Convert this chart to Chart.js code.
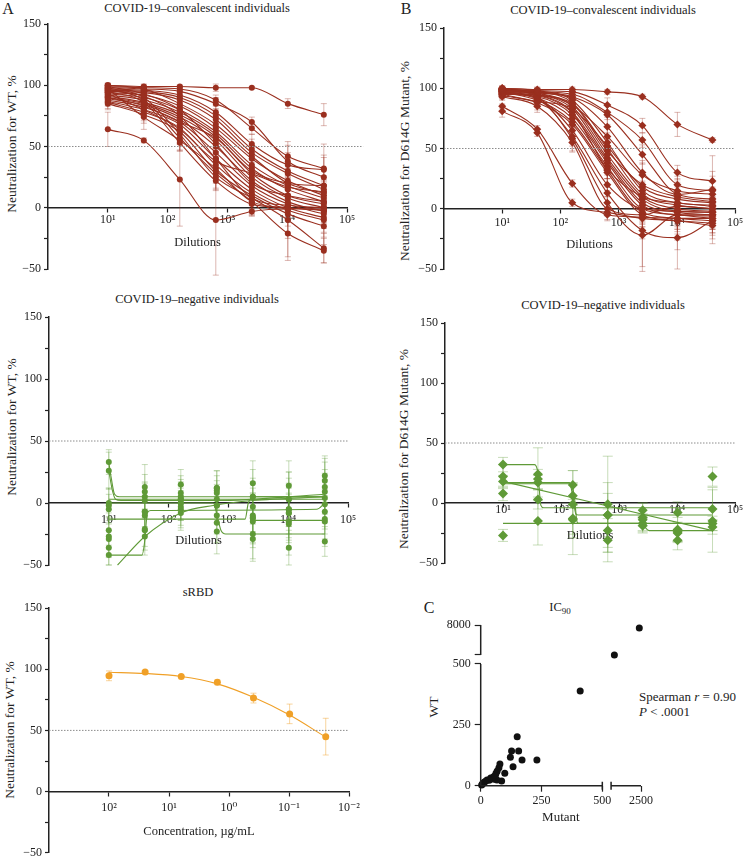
<!DOCTYPE html>
<html>
<head>
<meta charset="utf-8">
<script src="https://cdn.jsdelivr.net/npm/chart.js@4.4.1/dist/chart.umd.min.js"></script>
<style>
  body { margin: 0; background: #fff; width: 744px; height: 863px; position: relative; overflow: hidden;
         font-family: "Liberation Serif", "DejaVu Serif", serif; color: #222; }
  canvas { position: absolute; }
  .t { position: absolute; font-size: 12.5px; white-space: nowrap; transform: translate(-50%, -50%); }
  .yt { position: absolute; font-size: 13.5px; white-space: nowrap; transform: translate(-50%, -50%) rotate(-90deg); }
  .lt { position: absolute; font-size: 16px; transform: translate(-50%, -50%); }
</style>
</head>
<body>
<div class="lt" style="left:8px;top:9px">A</div>
<div class="lt" style="left:406px;top:9px">B</div>
<div class="lt" style="left:429px;top:608px">C</div>

<div class="t" style="left:197px;top:8px">COVID-19–convalescent individuals</div>
<div class="t" style="left:603px;top:10px">COVID-19–convalescent individuals</div>
<div class="t" style="left:197px;top:299px">COVID-19–negative individuals</div>
<div class="t" style="left:603px;top:305px">COVID-19–negative individuals</div>
<div class="t" style="left:198px;top:592px">sRBD</div>
<div class="t" style="left:560px;top:608px">IC<sub style="font-size:9px">90</sub></div>

<div class="yt" style="left:12px;top:144px">Neutralization for WT, %</div>
<div class="yt" style="left:405px;top:161px">Neutralization for D614G Mutant, %</div>
<div class="yt" style="left:12px;top:427px">Neutralization for WT, %</div>
<div class="yt" style="left:404px;top:449px">Neutralization for D614G Mutant, %</div>
<div class="yt" style="left:10px;top:730px">Neutralization for WT, %</div>
<div class="yt" style="left:434px;top:707px">WT</div>

<div style="position:absolute;left:639px;top:689px;font-size:13px;line-height:15px;white-space:nowrap">
  Spearman <i>r</i> = 0.90<br><i>P</i> &lt; .0001
</div>

<script>
// serial 4-fold dilutions / concentrations
const dilutions = [10, 40, 160, 640, 2560, 10240, 40960];
const concentrations = [100, 25, 6.25, 1.5625, 0.390625, 0.09765625, 0.0244140625];

// A: WT, convalescent (one row per individual)
const wtConv = [
  [100, 99, 99, 98, 98, 85, 76],
  [64, 55, 23, -10, -3, -1, -1],
  [99, 98, 97, 88, 65, 42, 32],
  [98, 97, 95, 85, 70, 38, 25],
  [97, 96, 92, 78, 52, 35, 31],
  [96, 95, 90, 75, 48, 30, 18],
  [95, 94, 88, 72, 45, 28, 15],
  [100, 97, 85, 68, 42, 20, 12],
  [94, 92, 83, 65, 40, 22, 10],
  [93, 90, 80, 62, 35, 18, 8],
  [92, 88, 78, 60, 32, 15, 5],
  [91, 86, 76, 58, 28, 10, 3],
  [90, 85, 74, 55, 25, 8, 0],
  [89, 84, 72, 50, 22, 5, -3],
  [88, 82, 70, 45, 18, 3, -5],
  [87, 80, 68, 40, 15, 0, -8],
  [86, 78, 65, 35, 12, -2, -10],
  [85, 76, 62, 30, 10, -5, -15],
  [98, 90, 60, 25, 8, -10, -33],
  [97, 88, 57, 28, 5, -21, -35],
  [99, 93, 80, 52, 20, 10, 5],
  [96, 91, 75, 40, 8, 2, 0],
  [95, 86, 53, 22, 3, 0, -2],
  [97, 74, 55, 32, 5, 0, -2],
  [93, 80, 64, 38, 28, 17, 13],
  [90, 83, 70, 57, 30, 20, 18]
];
const wtConvErr = [
  [1, 1, 1, 3, 1, 4, 9], [14, 2, 38, 45, 3, 3, 3], [2, 2, 3, 4, 5, 12, 20], [2, 2, 3, 5, 4, 13, 18],
  [2, 3, 4, 5, 8, 10, 10], [2, 3, 4, 6, 8, 10, 8], [3, 3, 5, 6, 6, 8, 10], [2, 4, 5, 6, 8, 9, 10],
  [3, 4, 6, 5, 7, 8, 9], [3, 4, 6, 7, 8, 8, 10], [3, 5, 5, 6, 8, 9, 10], [3, 4, 6, 6, 7, 10, 12],
  [4, 5, 6, 6, 8, 12, 10], [4, 5, 7, 8, 10, 14, 10], [4, 6, 6, 7, 10, 12, 12], [4, 6, 8, 8, 12, 15, 12],
  [5, 7, 8, 9, 10, 18, 14], [5, 7, 10, 10, 12, 20, 15], [3, 6, 8, 10, 14, 30, 12], [3, 8, 10, 12, 12, 22, 10],
  [2, 3, 5, 6, 8, 8, 8], [2, 4, 6, 8, 9, 9, 10], [3, 5, 7, 8, 8, 10, 12], [3, 10, 8, 8, 8, 10, 10],
  [4, 6, 8, 8, 9, 10, 10], [4, 6, 8, 8, 10, 12, 14]
];

// B: D614G mutant, convalescent
const mutConv = [
  [100, 99, 99, 97, 93, 70, 57],
  [85, 66, 21, -5, -7, -8, -8],
  [81, 63, 5, -3, -8, -10, -12],
  [99, 98, 97, 86, 69, 30, 23],
  [98, 97, 95, 80, 57, 20, 15],
  [99, 97, 93, 78, 45, 12, 8],
  [100, 98, 90, 55, 15, 5, 3],
  [99, 97, 88, 50, 12, 3, 0],
  [98, 96, 85, 45, 10, 0, -2],
  [97, 95, 83, 42, 8, -2, -3],
  [96, 94, 80, 40, 5, -3, -5],
  [95, 93, 78, 38, 3, -5, -6],
  [98, 92, 75, 35, 0, -5, -8],
  [97, 90, 72, 32, -3, -8, -10],
  [94, 88, 70, 30, -5, -10, -14],
  [96, 91, 60, 13, -18, -24, -10],
  [99, 93, 58, 5, -22, -5, -5],
  [100, 96, 86, 60, 28, 15, 12],
  [95, 89, 83, 52, 18, 8, 5],
  [93, 85, 55, 0, -5, 2, 0],
  [97, 94, 87, 48, 20, 10, 6],
  [99, 95, 80, 33, 10, 5, 2],
  [96, 92, 65, 20, 0, -2, -3],
  [98, 96, 92, 68, 30, 12, 16]
];
const mutConvErr = [
  [1, 1, 1, 2, 2, 10, 2], [2, 3, 3, 4, 4, 5, 4], [5, 3, 3, 3, 5, 5, 5], [2, 2, 4, 6, 6, 6, 21],
  [2, 2, 4, 6, 6, 7, 12], [2, 3, 5, 8, 8, 8, 10], [2, 3, 5, 8, 8, 8, 10], [2, 3, 6, 8, 10, 10, 10],
  [2, 4, 6, 10, 10, 12, 10], [2, 4, 6, 10, 12, 12, 12], [3, 4, 6, 10, 12, 14, 12], [3, 4, 8, 10, 15, 14, 14],
  [3, 5, 8, 10, 15, 16, 14], [3, 5, 8, 12, 18, 18, 15], [3, 6, 8, 12, 20, 24, 15], [3, 6, 8, 12, 30, 26, 10],
  [2, 4, 10, 10, 30, 12, 12], [2, 3, 5, 8, 10, 10, 10], [3, 5, 6, 8, 10, 10, 10], [3, 5, 8, 10, 10, 10, 10],
  [2, 3, 5, 8, 10, 10, 10], [2, 3, 6, 8, 10, 10, 10], [2, 4, 8, 10, 10, 10, 12], [2, 3, 5, 8, 10, 10, 15]
];

// negative individuals, WT
const wtNeg = [
  [33, 13, 15, 12, 16, 14, 22],
  [26, 9, 8, 10, 5, 3, 18],
  [0, 5, 5, 8, -3, -5, 13],
  [-2, 2, 3, 3, -10, -8, 9],
  [-5, -7, 0, -2, -12, -15, 4],
  [-22, -10, -3, -10, -15, -17, -1],
  [-27, -21, -5, -16, -25, -36, -7],
  [-29, -22, -8, -23, -29, 3, -13],
  [-36, -27, 3, 12, 5, -5, -15],
  [-42, -7, 0, -2, -12, -8, -31]
];
const wtNegErr = [
  [10, 18, 12, 14, 18, 20, 16], [15, 14, 14, 12, 15, 22, 18], [12, 12, 12, 10, 20, 25, 20],
  [14, 14, 12, 12, 18, 20, 18], [12, 16, 14, 14, 20, 22, 20], [14, 16, 15, 15, 18, 25, 20],
  [16, 14, 15, 16, 20, 14, 18], [15, 16, 14, 18, 18, 22, 16], [14, 15, 16, 14, 22, 20, 20],
  [8, 12, 14, 14, 24, 24, 12]
];
// fitted curves as drawn, [dilution, %]
const wtNegFits = [
  [[10, 33], [11, 20], [12.5, 7], [15, 5], [600, 5], [40960, 5]],
  [[10, 26], [11.5, 10], [13, 3], [16, 2], [640, 2], [40960, 7]],
  [[14, -50], [40, -27], [160, -8], [560, -2], [2560, 2], [40960, 5]],
  [[10, -42], [36, -42], [40, -30], [44, -8], [50, -6], [30000, -5], [40960, 0]],
  [[10, -13], [1900, -13], [2150, 0], [2400, 4], [2700, 5], [40960, 5]],
  [[10, 0], [560, 0], [660, -12], [750, -22], [900, -25], [40960, -25]],
  [[2560, -14], [40960, -14]],
  [[10, 3], [40960, 3]]
];

// negative individuals, D614G mutant
const mutNeg = [
  [32, 24, 15, -1, -6, -8, 22],
  [22, 20, 6, -10, -12, -22, -5],
  [18, 17, -1, -23, -17, -25, -15],
  [8, 3, -13, -31, -19, -31, -17],
  [-27, -15, -14, -10, -14, -24, -20]
];
const mutNegErr = [
  [6, 22, 12, 40, 6, 9, 8],
  [10, 8, 10, 27, 12, 10, 18],
  [5, 6, 28, 18, 6, 8, 26],
  [6, 8, 30, 18, 6, 8, 6],
  [5, 20, 12, 18, 5, 8, 6]
];
const mutNegFits = [
  [[10, 32], [35, 32], [40, 25], [45, -2], [50, -4], [40960, -4]],
  [[10, 17], [140, 17], [160, 5], [180, -9], [200, -10], [40960, -10]],
  [[10, 18], [40960, -23]],
  [[10, -17], [40960, -17]],
  [[10, 16], [150, 16], [170, 5], [190, -16], [210, -17], [2560, -17], [2900, -21], [3300, -23], [40960, -23]]
];

// sRBD
const srbdMean = [94.6, 97.8, 94.1, 89.3, 76.4, 63.5, 44.9];
const srbdErr = [4, 1, 1, 2, 4, 8, 15];
const srbdFit = [97.5, 96.5, 94, 88, 77, 62.5, 44.5];

// C: IC90, mutant vs WT
const ic90Mutant = [2415, 1165, 409, 150, 156, 127, 122, 170, 231, 133, 99, 79, 75, 68, 63, 86, 67, 55, 41, 26, 14, 7, 53, 60, 35, 20, 10, 4];
const ic90WT = [7300, 1000, 389, 201, 143, 143, 117, 106, 106, 78, 51, 89, 74, 60, 51, 19, 23, 27, 32, 23, 14, 7, 37, 42, 22, 18, 10, 3];
const ic90XTicks = [0, 250, 500, 2500];
const ic90YTicks = [0, 250, 500, 8000];

Chart.defaults.font.family = '"Liberation Serif", "DejaVu Serif", serif';
Chart.defaults.color = '#222';
Chart.defaults.plugins.legend.display = false;
Chart.defaults.plugins.tooltip.enabled = false;

const INK = '#222';
const SUP = { '-': '\u207b', '0': '\u2070', '1': '\u00b9', '2': '\u00b2', '3': '\u00b3', '4': '\u2074', '5': '\u2075' };
const pow10 = (v) => '10' + String(Math.round(Math.log10(v))).split('').map((c) => SUP[c]).join('');

const errorBars = {
  id: 'errorBars',
  beforeDatasetsDraw(chart) {
    const ctx = chart.ctx;
    chart.data.datasets.forEach((ds, i) => {
      if (!ds.errors) return;
      const meta = chart.getDatasetMeta(i);
      const ys = chart.scales[meta.yAxisID];
      const cap = ds.capW || 3;
      ctx.save();
      ctx.strokeStyle = ds.errorColor;
      ctx.lineWidth = 1;
      meta.data.forEach((pt, j) => {
        const e = ds.errors[j];
        if (!e) return;
        const v = ds.data[j].y;
        const y1 = ys.getPixelForValue(v + e), y2 = ys.getPixelForValue(v - e);
        ctx.beginPath();
        ctx.moveTo(pt.x, y1); ctx.lineTo(pt.x, y2);
        ctx.moveTo(pt.x - cap, y1); ctx.lineTo(pt.x + cap, y1);
        ctx.moveTo(pt.x - cap, y2); ctx.lineTo(pt.x + cap, y2);
        ctx.stroke();
      });
      ctx.restore();
    });
  }
};

function addCanvas(left, top, w, h) {
  const cv = document.createElement('canvas');
  cv.width = w; cv.height = h;
  cv.style.left = left + 'px'; cv.style.top = top + 'px';
  document.body.appendChild(cv);
  return cv;
}

function doseChart(o) {
  const cv = addCanvas(o.left, o.top, o.w, o.h);
  const datasets = [{
    data: [{ x: o.refStart, y: 50 }, { x: o.refEnd, y: 50 }],
    borderColor: '#8c8c8c', borderWidth: 1, borderDash: [1.5, 1.5],
    pointRadius: 0, clip: false
  }];
  (o.fits || []).forEach((f) => datasets.push({
    data: f.map(([x, y]) => ({ x, y })),
    borderColor: o.color, borderWidth: 1.1, pointRadius: 0,
    cubicInterpolationMode: 'monotone', clip: false
  }));
  o.values.forEach((vals, i) => datasets.push({
    data: vals.map((y, j) => ({ x: o.xs[j], y })),
    errors: o.errors[i], errorColor: o.errColor, capW: o.capW,
    showLine: !o.fits, borderColor: o.color, borderWidth: 1.1,
    cubicInterpolationMode: 'monotone',
    pointStyle: o.pointStyle, pointRadius: o.radius,
    pointBackgroundColor: o.color, pointBorderColor: o.color, pointBorderWidth: 0
  }));

  return new Chart(cv, {
    type: 'line',
    data: { datasets },
    plugins: [errorBars],
    options: {
      responsive: false,
      animation: false,
      layout: { padding: { left: 0, top: o.area.t, right: o.w - o.area.r, bottom: o.h - o.area.b } },
      scales: {
        x: {
          type: 'logarithmic', min: o.xMin, max: o.xMax, reverse: !!o.reverse,
          position: { y: 0 },
          border: { color: INK, width: 1.5 },
          grid: { drawOnChartArea: false, color: INK, tickLength: 4, tickWidth: 1.2 },
          ticks: { font: { size: 12 }, color: INK, padding: o.tickPad, autoSkip: false, maxRotation: 0, callback: (v) => pow10(v) },
          afterBuildTicks: (s) => { s.ticks = o.ticks.map((v) => ({ value: v })); },
          afterFit: (s) => { s.paddingLeft = 0; s.paddingRight = 0; },
          title: { display: true, text: o.xTitle, font: { size: 12.5 }, color: INK, padding: { top: o.titlePad, bottom: 0 } }
        },
        y: {
          min: -50, max: 150,
          border: { color: INK, width: 1.5 },
          grid: { drawOnChartArea: false, color: INK, tickLength: 4, tickWidth: 1.2 },
          ticks: { stepSize: 25, font: { size: 12 }, color: INK, padding: 3,
                   callback: (v) => (v % 50 ? '' : (v < 0 ? '\u2212' + (-v) : String(v))) },
          afterFit: (s) => { s.width = o.area.l; }
        }
      }
    }
  });
}

const RED = '#9a2f1f', RED_E = 'rgba(154,47,31,0.35)';
const GREEN = '#5f9a37', GREEN_E = 'rgba(95,154,55,0.35)';
const ORANGE = '#f0a027', ORANGE_E = 'rgba(240,160,39,0.45)';
const decades = [10, 100, 1000, 10000, 100000];

doseChart({ left: 0, top: 0, w: 372, h: 290, area: { l: 48, t: 24, r: 347, b: 269 },
  xs: dilutions, xMin: 1, xMax: 1e5, refStart: 1, refEnd: 1.86e5, ticks: decades,
  values: wtConv, errors: wtConvErr, color: RED, errColor: RED_E, pointStyle: 'circle', radius: 3,
  tickPad: 1, titlePad: 7, xTitle: 'Dilutions' });

doseChart({ left: 372, top: 0, w: 372, h: 290, area: { l: 72, t: 28, r: 363, b: 269 },
  xs: dilutions, xMin: 1, xMax: 1e5, refStart: 1, refEnd: 1e5, ticks: decades,
  values: mutConv, errors: mutConvErr, color: RED, errColor: RED_E, pointStyle: 'rectRot', radius: 4,
  tickPad: 3, titlePad: 4, xTitle: 'Dilutions' });

doseChart({ left: 0, top: 290, w: 372, h: 290, area: { l: 49, t: 27, r: 348, b: 275 },
  xs: dilutions, xMin: 1, xMax: 1e5, refStart: 1, refEnd: 1e5, ticks: decades,
  values: wtNeg, errors: wtNegErr, fits: wtNegFits, color: GREEN, errColor: GREEN_E, pointStyle: 'circle', radius: 3,
  tickPad: 6, titlePad: 0, xTitle: 'Dilutions' });

doseChart({ left: 372, top: 290, w: 372, h: 290, area: { l: 73, t: 33, r: 363, b: 273 },
  xs: dilutions, xMin: 1, xMax: 1e5, refStart: 1, refEnd: 1e5, ticks: decades,
  values: mutNeg, errors: mutNegErr, fits: mutNegFits, color: GREEN, errColor: GREEN_E, pointStyle: 'rectRot', radius: 5, capW: 5,
  tickPad: -4, titlePad: 15, xTitle: 'Dilutions' });

doseChart({ left: 0, top: 580, w: 372, h: 283, area: { l: 49, t: 28, r: 349, b: 276 },
  xs: concentrations, xMin: 0.01, xMax: 1000, reverse: true, refStart: 1000, refEnd: 0.01, ticks: [100, 10, 1, 0.1, 0.01],
  values: [srbdMean], errors: [srbdErr], fits: [concentrations.map((c, j) => [c, srbdFit[j]])],
  color: ORANGE, errColor: ORANGE_E, pointStyle: 'circle', radius: 3.5,
  tickPad: 5, titlePad: 4, xTitle: 'Concentration, \u00b5g/mL' });

// C: broken axes -> values above the break are mapped onto a short upper segment
const brkX = (v) => (v <= 500 ? v : 536 + (v - 1000) / 1500 * 123);
const brkY = (v) => (v <= 500 ? v : 537 + (v - 1000) / 7000 * 123);

const brokenAxes = {
  id: 'brokenAxes',
  afterDraw(chart) {
    const { ctx, scales: { x, y } } = chart;
    const x0 = x.getPixelForValue(0), y0 = y.getPixelForValue(0);
    ctx.save();
    ctx.strokeStyle = INK;
    ctx.lineWidth = 1.5;
    ctx.beginPath();
    ctx.moveTo(x0, y0); ctx.lineTo(x0, y.getPixelForValue(500));
    ctx.moveTo(x0, y.getPixelForValue(brkY(1000))); ctx.lineTo(x0, y.getPixelForValue(brkY(8000)));
    ctx.moveTo(x0, y0); ctx.lineTo(x.getPixelForValue(500), y0);
    ctx.moveTo(x.getPixelForValue(brkX(1000)), y0); ctx.lineTo(x.getPixelForValue(brkX(2500)), y0);
    [500, brkX(1000)].forEach((v) => {
      const px = x.getPixelForValue(v);
      ctx.moveTo(px, y0 - 4); ctx.lineTo(px, y0 + 4);
    });
    ctx.stroke();
    ctx.restore();
  }
};

const cvC = addCanvas(372, 580, 372, 283);
new Chart(cvC, {
  type: 'scatter',
  data: { datasets: [{
    data: ic90Mutant.map((m, i) => ({ x: brkX(m), y: brkY(ic90WT[i]) })),
    pointRadius: 3.5, pointBackgroundColor: '#111', pointBorderColor: '#111', pointBorderWidth: 0, clip: false
  }] },
  plugins: [brokenAxes],
  options: {
    responsive: false,
    animation: false,
    layout: { padding: { left: 0, top: 45, right: 372 - 269, bottom: 283 - 205.7 - 40 } },
    scales: {
      x: {
        type: 'linear', min: 0, max: brkX(2500),
        border: { display: false },
        grid: { drawOnChartArea: false, color: INK, tickLength: 6, tickWidth: 1.2 },
        ticks: { font: { size: 12 }, color: INK, padding: 2, autoSkip: false, maxRotation: 0,
                 callback: (v) => { const i = ic90XTicks.findIndex((t) => brkX(t) === v); return i < 0 ? '' : String(ic90XTicks[i]); } },
        afterBuildTicks: (s) => { s.ticks = ic90XTicks.map((t) => ({ value: brkX(t) })); },
        afterFit: (s) => { s.height = 40; s.paddingLeft = 0; s.paddingRight = 0; },
        title: { display: true, text: 'Mutant', font: { size: 13 }, color: INK, padding: { top: 4, bottom: 0 } }
      },
      y: {
        type: 'linear', min: 0, max: brkY(8000),
        border: { display: false },
        grid: { drawOnChartArea: false, color: INK, tickLength: 6, tickWidth: 1.2 },
        ticks: { font: { size: 12 }, color: INK, padding: 4, autoSkip: false,
                 callback: (v) => { const i = ic90YTicks.findIndex((t) => brkY(t) === v); return i < 0 ? '' : String(ic90YTicks[i]); } },
        afterBuildTicks: (s) => { s.ticks = [0, 250, 500, brkY(1000), brkY(8000)].map((v) => ({ value: v })); },
        afterFit: (s) => { s.width = 108.7; }
      }
    }
  }
});
</script>
</body>
</html>
